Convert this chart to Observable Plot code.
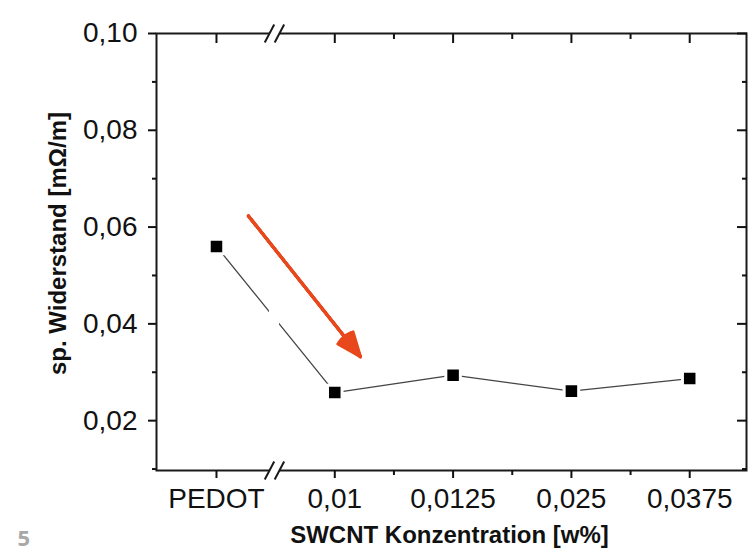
<!DOCTYPE html>
<html><head><meta charset="utf-8">
<script src="https://cdn.jsdelivr.net/npm/d3@7"></script>
<script src="https://cdn.jsdelivr.net/npm/@observablehq/plot@0.6"></script>
<style>body{margin:0;background:#fff} #chart{width:755px;height:555px}</style>
</head><body><div id="chart"></div>
<script>
const categories = ["PEDOT", "0,01", "0,0125", "0,025", "0,0375"];
const resistance = [0.0560, 0.0258, 0.0294, 0.0261, 0.0287];
const yTicks = [0.02, 0.04, 0.06, 0.08, 0.10];
const yMinorTicks = [0.01, 0.03, 0.05, 0.07, 0.09];
const xTicks = [0, 1, 2, 3, 4];
const xMinorTicks = [1.5, 2.5, 3.5];
const yLabel = "sp. Widerstand [mΩ/m]";
const xLabel = "SWCNT Konzentration [w%]";
const pageNumber = "5";
// annotation: red arrow (in category-index / value units)
const arrowData = [{x1: 0.27, y1: 0.0623, x2: 1.217, y2: 0.0332}];
// axis break position (category-index units) and line gap
const breakX = 0.49;
const lineGap = [{x1: 0.448, x2: 0.533, y1: 0.0392, y2: 0.0432}];

const yMin = 0.0097, yMax = 0.10;
const data = categories.map((c, i) => ({i, c, v: resistance[i]}));

const sx = 0.042, hx = 0.04, hy = 0.00186;
const breaks = [yMax, yMin];
const breakGaps = breaks.map(y => ({x1: breakX - sx, x2: breakX + sx, y1: y - 0.0008, y2: y + 0.0008}));
const slashes = breaks.flatMap(y => [-sx, sx].map(o => ({x1: breakX + o - hx, y1: y - hy, x2: breakX + o + hx, y2: y + hy})));

const font = '"Liberation Sans", Arial, sans-serif';
const blank = () => "";
const headAngles = [44, 35, 26, 17, 8];

const plot = Plot.plot({
  width: 755, height: 555,
  marginLeft: 156, marginRight: 9, marginTop: 33, marginBottom: 85,
  style: {fontFamily: font, background: "white", color: "#111"},
  x: {type: "linear", domain: [-0.507, 4.48]},
  y: {domain: [yMin, yMax]},
  marks: [
    Plot.line(data, {x: "i", y: "v", stroke: "#444", strokeWidth: 1.3}),
    Plot.rect(lineGap, {x1: "x1", x2: "x2", y1: "y1", y2: "y2", fill: "white"}),
    Plot.dot(data, {x: "i", y: "v", symbol: "square", r: 8.2, fill: "black", stroke: "white", strokeWidth: 3}),
    ...headAngles.map(a => Plot.arrow(arrowData, {x1: "x1", y1: "y1", x2: "x2", y2: "y2", stroke: "#e8481c", strokeWidth: 3, headLength: 13, headAngle: a})),
    Plot.frame({stroke: "#1a1a1a", strokeWidth: 2}),
    Plot.axisY({anchor: "left", ticks: yTicks, tickSize: 8, tickPadding: 11, strokeWidth: 2,
      tickFormat: d => d.toFixed(2).replace(".", ","), fontSize: 28, fill: "#111", label: null}),
    Plot.axisY({anchor: "left", ticks: yMinorTicks, tickSize: 4, strokeWidth: 2, tickFormat: blank, label: null}),
    Plot.axisY({anchor: "right", ticks: yTicks, tickSize: -10, strokeWidth: 2, tickFormat: blank, label: null}),
    Plot.axisY({anchor: "right", ticks: yMinorTicks, tickSize: -5, strokeWidth: 2, tickFormat: blank, label: null}),
    Plot.axisX({anchor: "bottom", ticks: xTicks, tickSize: 8, tickPadding: 10, strokeWidth: 2,
      tickFormat: i => categories[i], fontSize: 28, fill: "#111", label: null}),
    Plot.axisX({anchor: "bottom", ticks: xMinorTicks, tickSize: 5, strokeWidth: 2, tickFormat: blank, label: null}),
    Plot.axisX({anchor: "top", ticks: xTicks, tickSize: -9, strokeWidth: 2, tickFormat: blank, label: null}),
    Plot.axisX({anchor: "top", ticks: xMinorTicks, tickSize: -5, strokeWidth: 2, tickFormat: blank, label: null}),
    Plot.rect(breakGaps, {x1: "x1", x2: "x2", y1: "y1", y2: "y2", fill: "white"}),
    Plot.link(slashes, {x1: "x1", y1: "y1", x2: "x2", y2: "y2", stroke: "#1a1a1a", strokeWidth: 2}),
    Plot.text([yLabel], {frameAnchor: "left", rotate: -90, dx: -98, dy: -8.5, fontSize: 24, fontWeight: "bold",
      textAnchor: "middle", lineAnchor: "middle", fill: "#111"}),
    Plot.text([xLabel], {frameAnchor: "bottom", dx: -2, dy: 55, fontSize: 24, fontWeight: "bold",
      textAnchor: "middle", lineAnchor: "top", fill: "#111"}),
    Plot.text([pageNumber], {frameAnchor: "bottom-left", dx: -139, dy: 60, fontSize: 22, fontWeight: "bold",
      textAnchor: "start", lineAnchor: "top", fill: "#a8a8a8", fontFamily: '"Open Sans", sans-serif'})
  ]
});
document.getElementById("chart").appendChild(plot);
</script>
</body></html>
